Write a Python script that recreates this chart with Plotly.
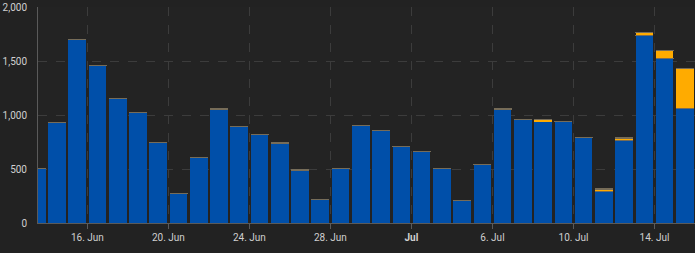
import plotly.graph_objects as go
import pandas as pd

dates = pd.date_range("2024-06-13 12:00", "2024-07-15 12:00", freq="D")
blue = [505, 930, 1700, 1455, 1150, 1025, 745, 275, 610, 1055, 895, 820, 740, 490, 220, 505, 905, 860,
        710, 665, 505, 210, 545, 1055, 960, 943, 940, 790, 297, 767, 1738, 1525, 1063]
orange = [0]*25 + [15, 0, 0, 18, 21, 24, 70, 371]

tick_vals = ["2024-06-16", "2024-06-20", "2024-06-24", "2024-06-28", "2024-07-02",
             "2024-07-06", "2024-07-10", "2024-07-14"]
tick_text = ["16. Jun", "20. Jun", "24. Jun", "28. Jun", "<b>Jul</b>", "6. Jul", "10. Jul", "14. Jul"]
y_ticks = [0, 500, 1000, 1500, 2000]
y_text = ["0", "500", "1,000", "1,500", "2,000"]

bar_w = 0.87 * 86400000
edge = "rgba(118,108,88,1)"
cap = dict(type="constant", value=0, visible=True, color=edge, thickness=1.2, width=9)

fig = go.Figure()
fig.add_bar(x=dates, y=blue, width=bar_w, marker=dict(color="#004fa9", line=dict(width=0)),
            error_y=cap, name="A")
fig.add_bar(x=dates, y=orange, width=bar_w, marker=dict(color="#ffab00", line=dict(width=0)),
            error_y=cap, name="B")

fig.update_layout(
    barmode="stack",
    width=695, height=253,
    margin=dict(l=38, r=0, t=7, b=30),
    paper_bgcolor="#222222",
    plot_bgcolor="#232323",
    showlegend=False,
    font=dict(family="Roboto", size=10, color="#d0d0d0"),
    xaxis=dict(
        type="date",
        range=["2024-06-13 13:30", "2024-07-16 00:00"],
        tickvals=tick_vals, ticktext=tick_text,
        showgrid=True, gridcolor="#3c3c3c", griddash="dash", gridwidth=1,
        showline=True, linecolor="#5a5a5a", linewidth=1,
        ticks="outside", ticklen=5, tickcolor="#5a5a5a",
        zeroline=False,
    ),
    yaxis=dict(
        range=[0, 2000],
        tickvals=y_ticks, ticktext=y_text,
        showgrid=True, gridcolor="#3c3c3c", griddash="dash", gridwidth=1,
        showline=True, linecolor="#5a5a5a", linewidth=1,
        ticks="", ticklabelstandoff=8,
        zeroline=False,
    ),
)

fig.write_html("out.html")
